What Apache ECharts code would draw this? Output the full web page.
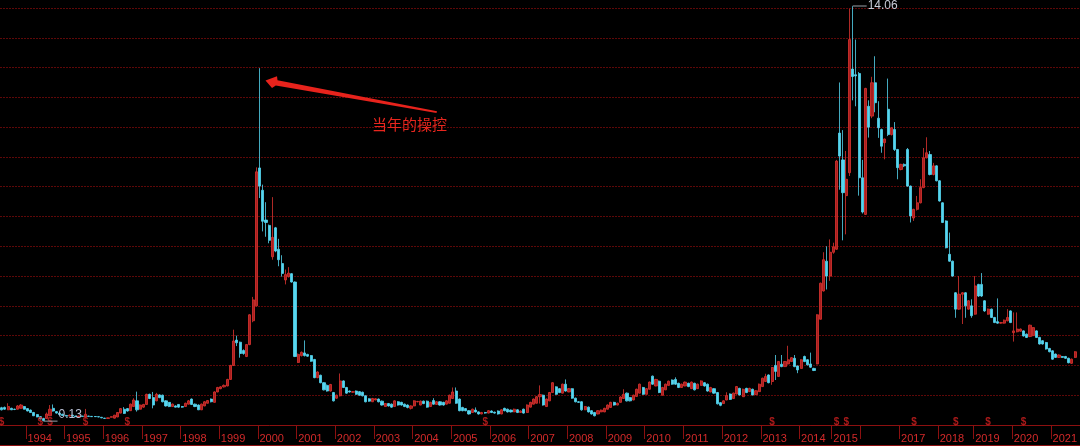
<!DOCTYPE html>
<html>
<head>
<meta charset="utf-8">
<script src="https://cdn.jsdelivr.net/npm/echarts@6/dist/echarts.min.js"></script>
<style>
  html, body { margin: 0; padding: 0; background: #000; }
  #chart { width: 1080px; height: 446px; }
</style>
</head>
<body>
<div id="chart"></div>
<script>
// 月K线, 1993-05 起, 停牌月份不计
const startYear = 1993, startMonth = 5, endYear = 2021, endMonth = 9;
const suspendedMonths = ['2014-07', '2014-08', '2015-08', '2015-09', '2015-10', '2018-04'];
const hiddenYearLabels = ['2016'];

// [open, close, low, high]
const ohlc = [
  // 1993
  [0.58,0.51,0.49,0.61],[0.59,0.53,0.51,0.62],[0.51,0.62,0.50,0.73],[0.56,0.51,0.50,0.58],[0.53,0.52,0.50,0.55],
  [0.53,0.64,0.52,0.67],[0.56,0.67,0.55,0.70],[0.62,0.53,0.52,0.64],
  // 1994
  [0.55,0.47,0.46,0.57],[0.50,0.42,0.41,0.52],[0.42,0.31,0.30,0.44],[0.35,0.27,0.26,0.36],[0.28,0.20,0.19,0.30],
  [0.22,0.15,0.13,0.24],[0.22,0.37,0.21,0.42],[0.31,0.53,0.30,0.67],[0.56,0.47,0.45,0.69],[0.45,0.40,0.38,0.47],
  [0.40,0.35,0.34,0.42],[0.36,0.32,0.31,0.38],
  // 1995
  [0.32,0.30,0.29,0.34],[0.30,0.33,0.29,0.35],[0.33,0.30,0.29,0.34],[0.30,0.28,0.27,0.31],[0.28,0.30,0.27,0.31],
  [0.30,0.29,0.28,0.31],[0.27,0.36,0.25,0.54],[0.30,0.29,0.28,0.31],[0.29,0.28,0.27,0.30],[0.285,0.28,0.27,0.30],
  [0.28,0.27,0.26,0.29],[0.26,0.24,0.23,0.27],
  // 1996
  [0.23,0.22,0.21,0.24],[0.22,0.24,0.21,0.25],[0.26,0.28,0.25,0.29],[0.23,0.33,0.22,0.34],[0.27,0.42,0.26,0.43],
  [0.40,0.55,0.39,0.57],[0.53,0.39,0.37,0.60],[0.55,0.47,0.45,0.57],[0.48,0.70,0.47,0.72],[0.62,0.84,0.61,0.90],
  [0.81,0.51,0.45,1.12],[0.53,0.67,0.52,0.69],
  // 1997
  [0.60,0.69,0.58,0.71],[0.69,1.03,0.68,1.05],[1.03,0.89,0.87,1.05],[0.92,0.67,0.56,1.11],[0.81,1.03,0.80,1.08],
  [1.01,0.92,0.90,1.03],[1.00,0.78,0.76,1.02],[0.81,0.64,0.62,0.83],[0.76,0.62,0.60,0.77],[0.62,0.70,0.61,0.72],
  [0.64,0.60,0.59,0.66],[0.69,0.60,0.58,0.70],
  // 1998
  [0.62,0.60,0.58,0.64],[0.62,0.73,0.61,0.75],[0.70,0.81,0.69,0.84],[0.87,0.69,0.67,0.89],[0.70,0.62,0.60,0.72],
  [0.67,0.51,0.50,0.69],[0.51,0.70,0.50,0.72],[0.64,0.78,0.63,0.80],[0.73,0.82,0.72,0.84],[0.87,0.78,0.76,0.89],
  [0.76,1.11,0.75,1.13],[1.11,1.26,1.10,1.28],
  // 1999
  [1.22,1.28,1.20,1.30],[1.28,1.33,1.26,1.36],[1.31,1.53,1.30,1.55],[1.53,2.00,1.52,2.02],[2.00,2.82,1.98,3.20],
  [2.85,2.76,2.65,3.00],[2.78,2.40,2.26,2.80],[2.50,2.40,2.36,2.54],[2.30,2.70,2.28,2.72],[2.70,3.70,2.68,3.72],
  [3.50,4.20,3.45,4.30],[4.00,8.50,3.98,8.65],
  // 2000
  [8.63,8.02,7.62,11.98],[7.88,6.84,6.50,8.07],[6.88,6.80,6.32,7.48],[6.70,6.20,6.10,6.73],[5.65,6.30,5.55,7.65],
  [6.62,5.84,5.80,6.65],[5.90,5.55,5.33,6.25],[5.42,5.09,4.98,5.70],[4.87,5.05,4.72,5.22],[4.98,5.10,4.95,5.30],
  [5.08,4.80,4.78,5.10],[4.80,2.30,2.28,4.82],
  // 2001
  [2.10,2.37,2.08,2.40],[2.33,2.44,2.30,2.47],[2.42,2.33,2.30,2.84],[2.37,2.31,2.29,2.39],[2.33,2.14,2.12,2.35],
  [2.20,1.59,1.57,2.22],[1.59,1.78,1.57,1.80],[1.67,1.42,1.40,1.69],[1.42,1.18,1.16,1.44],[1.33,1.14,1.12,1.36],
  [1.14,1.36,1.12,1.38],[1.09,0.81,0.79,1.11],
  // 2002
  [0.90,1.00,0.88,1.02],[0.98,1.48,0.96,1.73],[1.48,1.26,1.24,1.50],[1.26,1.07,1.05,1.28],[1.14,1.11,1.09,1.16],
  [1.10,1.12,1.08,1.14],[1.14,1.03,1.01,1.16],[1.12,1.00,0.98,1.14],[1.10,0.98,0.96,1.12],[0.98,0.78,0.76,1.00],
  [0.88,0.80,0.78,0.90],[0.78,0.89,0.77,0.91],
  // 2003
  [0.84,0.88,0.83,0.90],[0.87,0.78,0.76,0.89],[0.80,0.67,0.65,0.82],[0.62,0.72,0.61,0.74],[0.72,0.64,0.62,0.74],
  [0.70,0.60,0.58,0.72],[0.62,0.81,0.61,0.83],[0.78,0.67,0.65,0.80],[0.76,0.67,0.65,0.78],[0.70,0.62,0.60,0.72],
  [0.67,0.59,0.56,0.69],[0.56,0.64,0.52,0.66],
  // 2004
  [0.64,0.81,0.63,0.83],[0.78,0.79,0.76,0.81],[0.67,0.80,0.66,0.82],[0.80,0.72,0.70,0.82],[0.80,0.60,0.58,0.82],
  [0.62,0.76,0.61,0.78],[0.82,0.70,0.68,0.90],[0.69,0.78,0.68,0.80],[0.78,0.67,0.65,0.80],[0.76,0.67,0.65,0.78],
  [0.70,0.81,0.69,0.83],[0.73,1.00,0.72,1.02],
  // 2005
  [0.89,1.11,0.88,1.26],[1.14,0.73,0.71,1.26],[0.87,0.48,0.46,0.89],[0.59,0.48,0.46,0.61],[0.55,0.48,0.46,0.57],
  [0.48,0.37,0.35,0.50],[0.42,0.53,0.41,0.55],[0.50,0.44,0.42,0.59],[0.44,0.37,0.35,0.46],[0.37,0.42,0.36,0.44],
  [0.42,0.40,0.38,0.44],[0.40,0.48,0.39,0.50],
  // 2006
  [0.47,0.42,0.40,0.49],[0.43,0.40,0.38,0.45],[0.47,0.37,0.35,0.49],[0.37,0.51,0.36,0.53],[0.56,0.48,0.46,0.58],
  [0.53,0.44,0.42,0.55],[0.50,0.44,0.42,0.52],[0.44,0.53,0.43,0.55],[0.51,0.42,0.40,0.53],[0.42,0.47,0.41,0.49],
  [0.53,0.40,0.38,0.55],[0.42,0.67,0.41,0.69],
  // 2007
  [0.60,0.76,0.59,0.78],[0.70,0.87,0.69,0.89],[0.73,0.95,0.72,0.97],[0.95,1.02,0.72,1.33],[1.00,0.67,0.65,1.02],
  [0.62,0.87,0.61,0.89],[0.81,1.09,0.80,1.11],[1.09,1.42,1.08,1.44],[1.28,1.03,1.01,1.30],[1.22,1.09,1.07,1.24],
  [1.07,1.37,1.06,1.39],[1.37,1.14,1.12,1.53],
  // 2008
  [1.11,1.22,1.10,1.24],[1.22,0.90,0.88,1.24],[0.90,0.78,0.76,0.92],[0.78,0.76,0.74,0.80],[0.78,0.51,0.48,0.80],
  [0.51,0.62,0.50,0.64],[0.60,0.44,0.42,0.62],[0.48,0.37,0.35,0.50],[0.42,0.31,0.29,0.44],[0.37,0.48,0.36,0.50],
  [0.44,0.50,0.43,0.52],[0.44,0.56,0.43,0.58],
  // 2009
  [0.53,0.67,0.52,0.69],[0.59,0.76,0.58,0.78],[0.76,0.67,0.65,0.78],[0.67,0.73,0.66,0.75],[0.76,0.94,0.75,0.96],
  [0.89,1.03,0.88,1.20],[1.07,0.81,0.79,1.09],[0.92,0.81,0.79,0.94],[0.84,1.00,0.83,1.02],[0.96,1.20,0.95,1.22],
  [1.07,1.37,1.06,1.39],[1.26,1.03,1.01,1.28],
  // 2010
  [1.03,1.22,1.02,1.24],[1.20,1.44,1.19,1.46],[1.64,1.37,1.35,1.66],[1.31,1.53,1.30,1.55],[1.47,1.09,1.07,1.49],
  [1.00,1.26,0.99,1.28],[1.18,1.37,1.17,1.39],[1.33,1.47,1.32,1.49],[1.51,1.37,1.35,1.53],[1.53,1.37,1.35,1.60],
  [1.40,1.26,1.24,1.42],[1.26,1.37,1.25,1.39],
  // 2011
  [1.31,1.44,1.30,1.46],[1.40,1.29,1.27,1.42],[1.22,1.44,1.21,1.46],[1.40,1.18,1.16,1.42],[1.22,1.37,1.21,1.39],
  [1.33,1.48,1.32,1.50],[1.42,1.31,1.29,1.44],[1.37,1.14,1.12,1.39],[1.11,1.26,1.10,1.28],[1.22,1.07,1.05,1.24],
  [1.09,0.71,0.69,1.11],[0.75,0.66,0.63,0.77],
  // 2012
  [0.72,0.81,0.71,0.83],[0.84,0.99,0.83,1.10],[1.04,0.86,0.84,1.06],[0.89,1.07,0.88,1.09],[1.04,1.29,1.03,1.31],
  [1.23,1.01,0.99,1.25],[0.95,1.20,0.94,1.22],[1.23,1.09,1.07,1.25],[1.12,1.23,1.11,1.25],[1.20,1.01,0.99,1.22],
  [1.02,1.15,1.01,1.17],[1.12,1.37,1.11,1.39],
  // 2013
  [1.29,1.57,1.28,1.59],[1.46,1.63,1.45,1.72],[1.68,1.42,1.40,1.70],[1.46,1.93,1.35,1.95],[2.00,1.80,1.51,2.35],
  [1.63,2.13,1.62,2.15],[2.04,1.96,1.94,2.35],[1.96,2.13,1.95,2.15],[2.05,2.19,2.03,2.66],[2.13,2.26,2.12,2.28],
  [2.24,1.96,1.94,2.35],[1.98,1.85,1.74,2.00],
  // 2014
  [1.90,2.19,1.89,2.21],[2.30,2.13,2.11,2.33],[2.19,2.02,2.00,2.21],[2.05,1.94,1.92,2.43],[1.90,1.83,1.81,1.92],
  [2.05,3.70,2.04,3.72],[3.55,4.76,3.54,4.78],[4.50,5.55,4.48,5.80],[5.50,5.00,4.55,6.00],[5.00,5.80,4.84,6.23],
  // 2015
  [5.80,5.98,5.75,6.12],[5.90,8.86,5.88,8.90],[9.80,9.03,7.90,11.50],[8.90,7.80,6.20,9.90],[7.70,8.25,6.40,9.20],
  [8.47,12.94,8.36,13.98],[11.95,11.70,10.90,14.06],[11.76,11.72,10.70,12.94],[11.80,8.30,7.70,11.85],
  // 2016
  [8.30,7.15,7.10,8.90],[7.07,11.30,7.05,11.32],[10.70,10.00,9.65,10.90],[10.37,11.49,10.30,11.69],[11.49,10.82,10.50,12.38],
  [10.30,9.98,9.64,10.87],[9.92,9.36,9.14,9.95],[9.48,9.60,8.92,9.62],[10.60,9.75,9.70,11.63],[9.75,9.98,9.72,10.00],
  [9.92,9.25,9.20,10.17],[9.25,8.64,8.25,9.27],
  // 2017
  [8.58,8.75,8.55,8.77],[8.75,8.70,8.66,8.78],[9.25,8.02,8.00,9.30],[8.02,7.02,6.80,8.04],[6.95,7.24,6.85,7.26],
  [7.24,7.46,7.20,7.69],[7.46,7.97,7.44,8.25],[7.97,8.97,7.95,9.30],[8.97,9.14,8.95,9.66],[9.08,8.41,8.38,9.20],
  [8.41,8.70,8.38,8.80],[8.70,8.20,8.18,8.72],
  // 2018
  [8.20,7.52,7.50,8.22],[7.46,6.80,6.78,7.48],[6.85,5.95,5.93,6.87],[5.73,5.50,5.48,6.46],[5.50,5.00,4.98,5.52],
  [4.44,3.89,3.60,4.46],[3.89,4.39,3.87,5.00],[4.39,4.44,3.39,4.46],[4.44,4.00,3.60,4.46],[3.89,4.17,3.87,4.19],
  [4.00,3.67,3.60,4.22],
  // 2019
  [3.72,4.67,3.70,5.00],[4.72,4.33,4.30,4.74],[4.72,4.33,4.30,5.10],[4.17,3.83,3.80,4.19],[3.72,3.89,3.70,3.91],
  [3.89,3.61,3.59,3.91],[3.61,3.44,3.42,3.63],[3.47,3.42,3.40,4.25],[3.42,3.44,3.40,3.46],[3.42,3.52,3.40,3.54],
  [3.50,3.61,3.48,3.89],[3.83,3.44,3.42,3.85],
  // 2020
  [3.10,3.16,2.80,3.78],[3.13,3.22,3.11,3.78],[3.15,3.22,3.13,3.24],[3.16,2.99,2.97,3.18],[3.05,2.94,2.92,3.07],
  [2.97,3.35,2.95,3.37],[3.00,3.27,2.98,3.29],[3.16,2.94,2.92,3.18],[2.94,2.72,2.70,2.96],[2.83,2.72,2.70,2.85],
  [2.77,2.55,2.53,2.79],[2.57,2.46,2.44,2.59],
  // 2021
  [2.49,2.21,2.19,2.51],[2.38,2.27,2.25,2.40],[2.27,2.35,2.25,2.37],[2.30,2.27,2.25,2.32],[2.30,2.24,2.22,2.32],
  [2.24,2.09,2.07,2.26],[2.07,2.21,2.05,2.23],[2.27,2.46,2.25,2.48],'-'
];

// 权息标记 所在K线序号
const dividendIndex = [0, 12, 15, 26, 39, 150, 239, 259, 262, 283, 296, 306, 317];
const maxIndex = 264, maxValue = 14.06;
const minIndex = 13, minValue = 0.13;
const noteText = '当年的操控';

// 生成月份类目
let categories = [];
for (let y = startYear; y <= endYear; y++) {
  for (let m = 1; m <= 12; m++) {
    if (y === startYear && m < startMonth) continue;
    if (y === endYear && m > endMonth) continue;
    let key = y + '-' + (m < 10 ? '0' + m : m);
    if (suspendedMonths.indexOf(key) >= 0) continue;
    categories.push(key);
  }
}

let isYearStart = function (index) {
  return categories[index] && categories[index].slice(5) === '01';
};

let myChart = echarts.init(document.getElementById('chart'));
let option = {
  backgroundColor: '#000',
  animation: false,
  grid: { left: 0, right: 0, top: 8, bottom: 21 },
  xAxis: {
    type: 'category',
    data: categories,
    boundaryGap: true,
    offset: 6,
    axisLine: { show: true, lineStyle: { color: '#8c1010', width: 1 } },
    axisTick: {
      show: true,
      length: 14,
      interval: function (index) { return isYearStart(index); },
      lineStyle: { color: '#8c1010', width: 1 }
    },
    axisLabel: {
      show: true,
      interval: function (index) { return isYearStart(index); },
      formatter: function (val) {
        let y = val.slice(0, 4);
        return hiddenYearLabels.indexOf(y) >= 0 ? '' : y;
      },
      align: 'left',
      margin: 2,
      color: '#d42a2a',
      fontSize: 11,
      fontFamily: 'Liberation Sans'
    },
    splitLine: { show: false }
  },
  yAxis: {
    type: 'value',
    min: 0,
    max: 14,
    interval: 1,
    axisLine: { show: false },
    axisTick: { show: false },
    axisLabel: { show: false },
    splitLine: { show: true, lineStyle: { color: '#5e0808', type: [2, 1], width: 1 } }
  },
  series: [
    {
      type: 'candlestick',
      data: ohlc,
      clip: false,
      barWidth: 2.6,
      itemStyle: {
        color: '#a81e1e',
        color0: '#56d6f0',
        borderColor: '#dc3430',
        borderColor0: '#56d6f0',
        borderWidth: 0.8
      },
      markPoint: {
        silent: true,
        data: [
          {
            // 最高点略高于坐标上限, 以上限定位后上移
            coord: [maxIndex, 14],
            symbol: 'rect',
            symbolSize: [14, 1],
            symbolOffset: [7, -2],
            itemStyle: { color: '#9aa0a8' },
            label: {
              show: true, position: 'right', distance: 1,
              formatter: String(maxValue), color: '#c8ccd8', fontSize: 12
            }
          },
          {
            coord: [minIndex, minValue],
            symbol: 'rect',
            symbolSize: [14, 1],
            symbolOffset: [7, 0],
            itemStyle: { color: '#9aa0a8' },
            label: {
              show: true, position: 'right', distance: 1, offset: [0, -6],
              formatter: String(minValue), color: '#b8c0d4', fontSize: 12
            }
          }
        ]
      }
    },
    {
      type: 'scatter',
      data: dividendIndex.map(function (i) { return [i, 0.08]; }),
      symbolSize: 1,
      itemStyle: { color: 'rgba(0,0,0,0)' },
      label: {
        show: true, position: 'inside', formatter: '$',
        color: '#d42020', fontSize: 10, fontWeight: 'bold'
      },
      silent: true
    }
  ],
  graphic: [
    {
      type: 'line',
      shape: { x1: 0, y1: 445.5, x2: 1080, y2: 445.5 },
      style: { stroke: '#8c1010', lineWidth: 1 }
    },
    {
      type: 'polygon',
      z: 100,
      shape: {
        points: [[265.5, 80.5], [277, 76.2], [277.5, 80.2], [437, 111.3], [436.5, 113], [275.8, 85.4], [272, 88]]
      },
      style: { fill: '#e8231c' }
    },
    {
      type: 'text',
      z: 100,
      left: 372,
      top: 117,
      style: {
        text: noteText,
        fill: '#e8261e',
        font: '15px "Noto Sans CJK SC"'
      }
    }
  ]
};
myChart.setOption(option);
</script>
</body>
</html>
